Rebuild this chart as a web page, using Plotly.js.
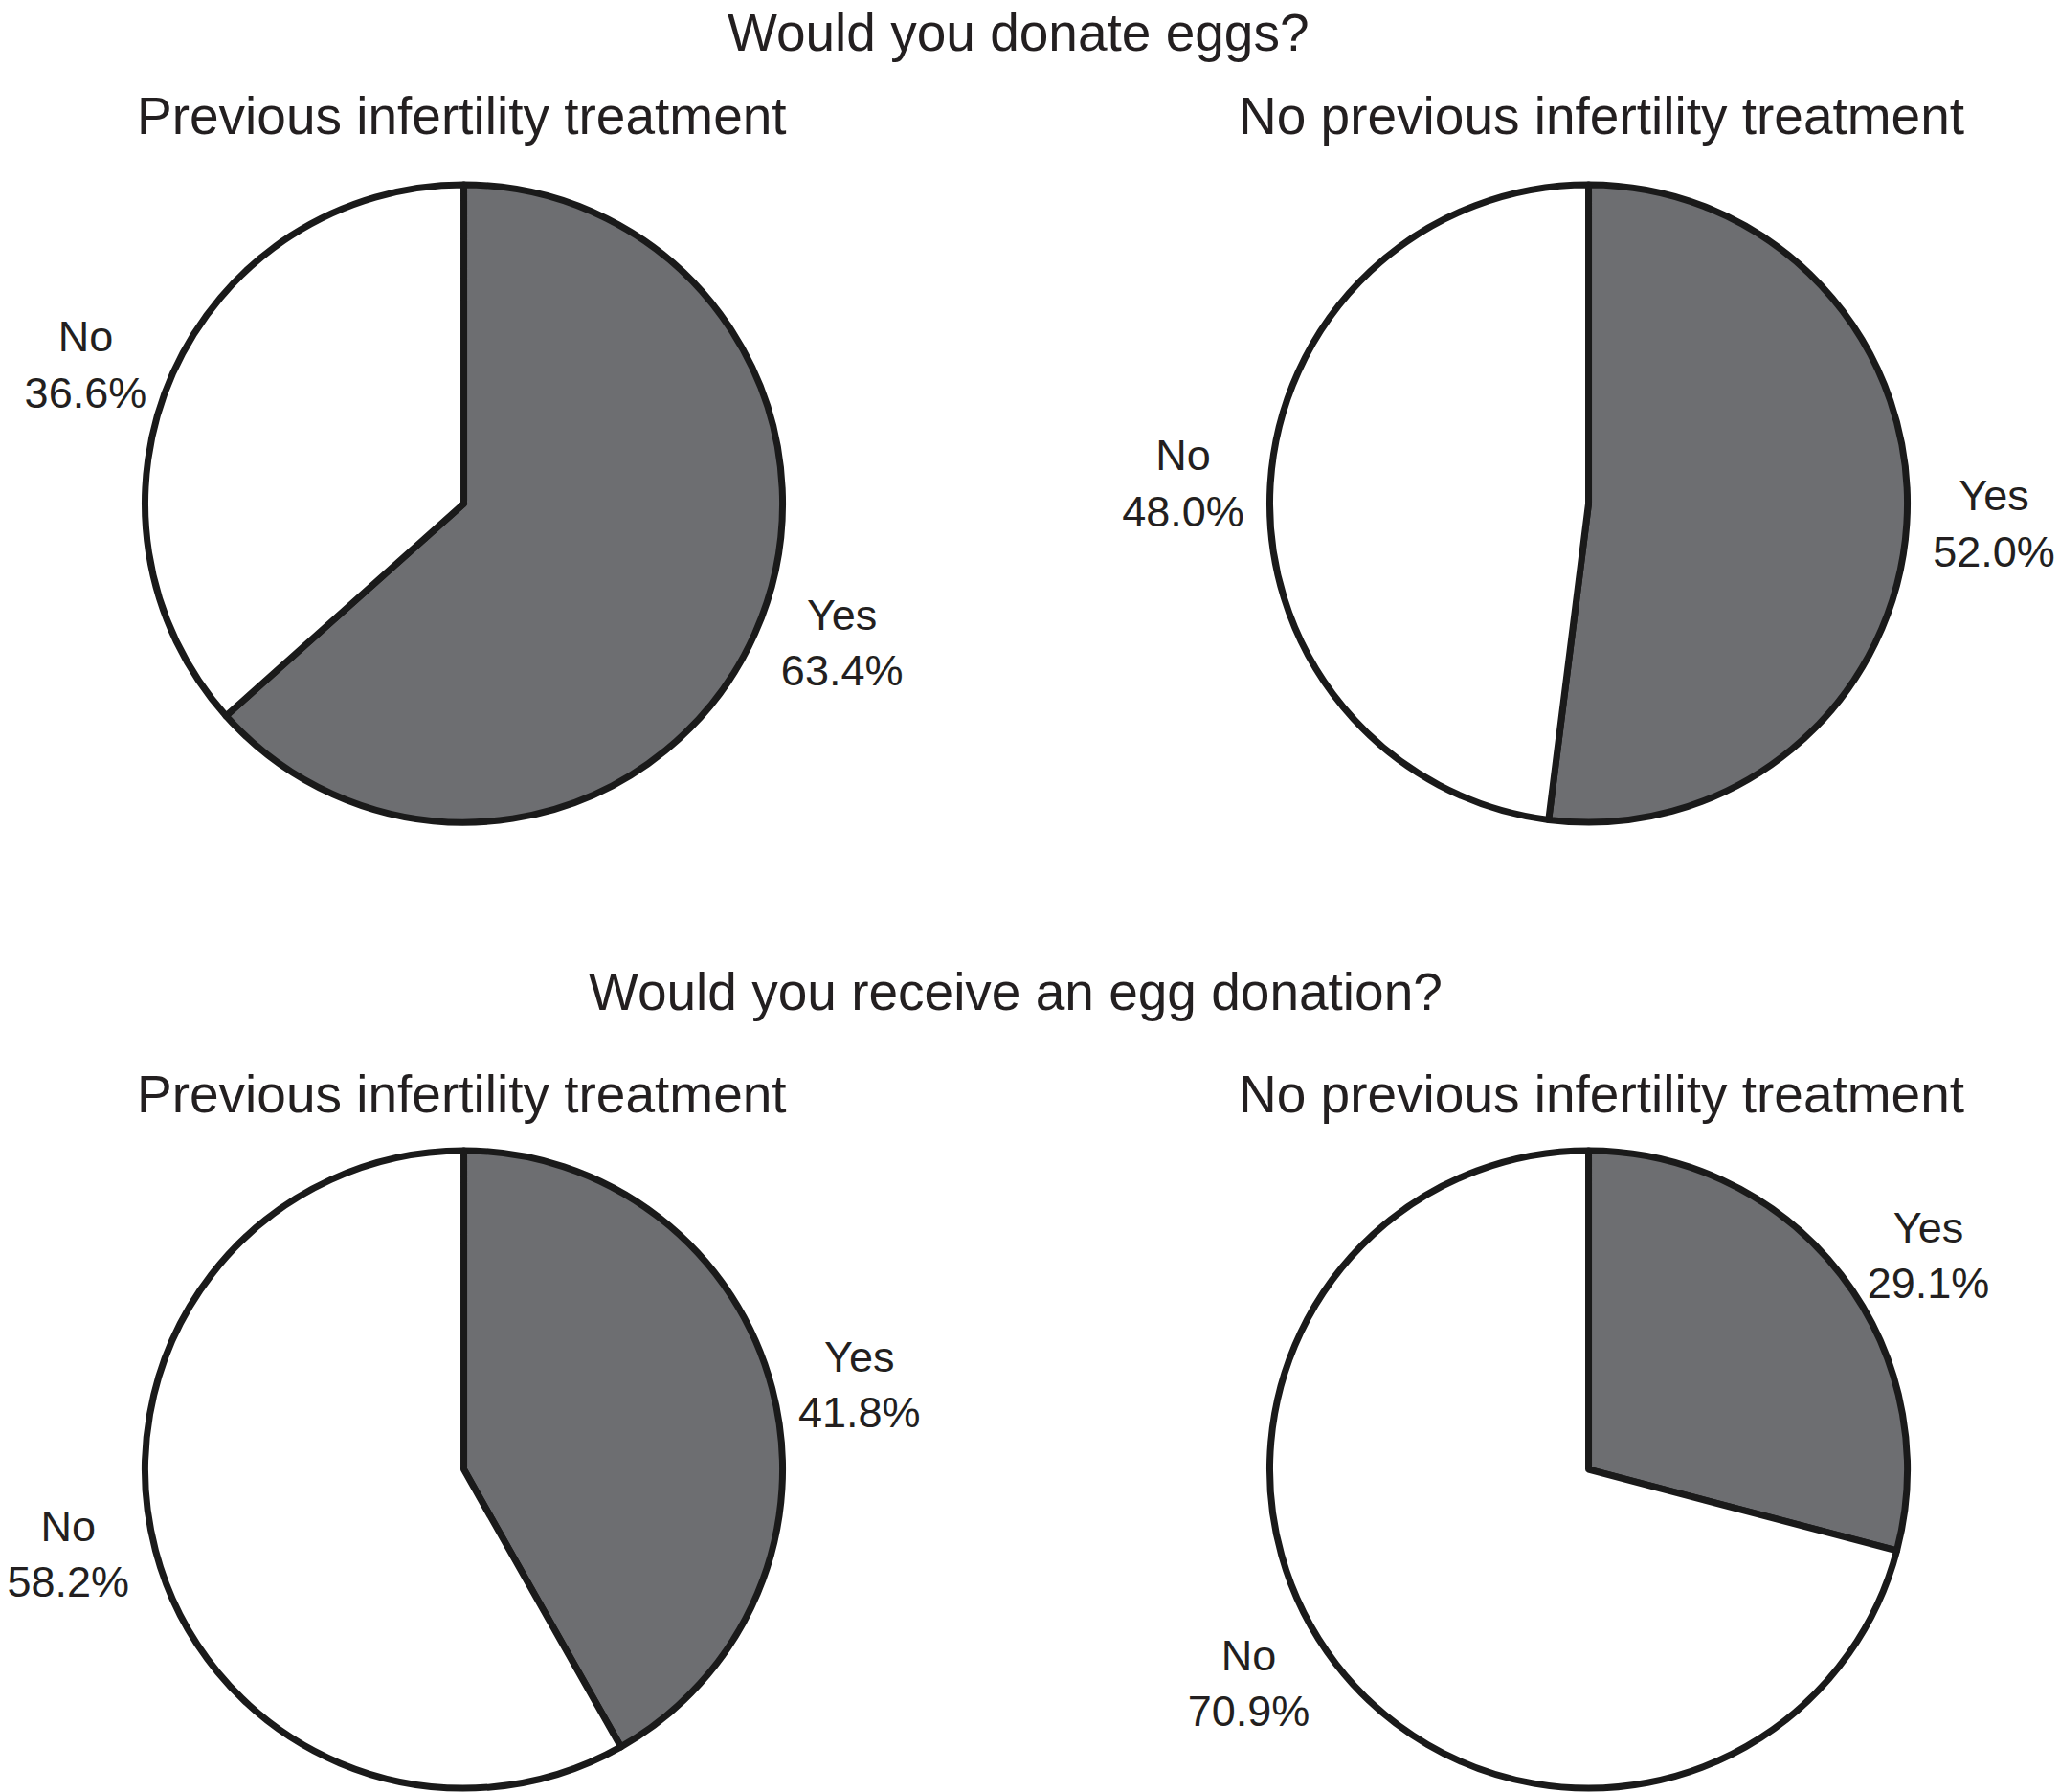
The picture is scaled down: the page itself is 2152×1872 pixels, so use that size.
<!DOCTYPE html>
<html>
<head>
<meta charset="utf-8">
<script src="https://cdn.plot.ly/plotly-3.0.1.min.js"></script>
<style>
  html, body { margin: 0; padding: 0; background: #ffffff; }
  #chart { width: 2152px; height: 1872px; }
</style>
</head>
<body>
<div id="chart"></div>
<script>
// ---- data ----
const sliceLabels = ["Yes", "No"];
const donatePrev = [63.4, 36.6];
const donateNoPrev = [52.0, 48.0];
const receivePrev = [41.8, 58.2];
const receiveNoPrev = [29.1, 70.9];
const questionTitles = ["Would you donate eggs?", "Would you receive an egg donation?"];
const groupTitles = ["Previous infertility treatment", "No previous infertility treatment"];

// ---- style ----
const FONT = "Liberation Sans, Arial, Helvetica, sans-serif";
const TXT = "#231f20";
const sliceColors = ["#6d6e71", "#ffffff"];

const xDomains = [[0.0704, 0.3799], [0.6164, 0.9259]];
const yDomains = [[0.5411, 0.8969], [0.0021, 0.3579]];

function pie(values, xd, yd) {
  return {
    type: "pie",
    labels: sliceLabels,
    values: values,
    sort: false,
    direction: "clockwise",
    rotation: 0,
    hole: 0,
    domain: { x: xd, y: yd },
    marker: { colors: sliceColors, line: { color: "#1a1a1a", width: 7 } },
    texttemplate: "%{label}<br>%{value:.1f}%",
    textposition: "outside",
    textfont: { family: FONT, size: 45, color: TXT },
    showlegend: false,
    hoverinfo: "label+value"
  };
}

const data = [
  pie(donatePrev, xDomains[0], yDomains[0]),
  pie(donateNoPrev, xDomains[1], yDomains[0]),
  pie(receivePrev, xDomains[0], yDomains[1]),
  pie(receiveNoPrev, xDomains[1], yDomains[1])
];

function ann(text, x, y) {
  return {
    text: text, x: x, y: y, xref: "paper", yref: "paper",
    xanchor: "center", yanchor: "middle", showarrow: false,
    font: { family: FONT, size: 55, color: TXT }
  };
}

const layout = {
  width: 2152,
  height: 1872,
  margin: { l: 0, r: 0, t: 0, b: 0 },
  paper_bgcolor: "#ffffff",
  plot_bgcolor: "#ffffff",
  showlegend: false,
  annotations: [
    ann(questionTitles[0], 1064 / 2152, 1 - 34 / 1872),
    ann(groupTitles[0], 482 / 2152, 1 - 121 / 1872),
    ann(groupTitles[1], 1673 / 2152, 1 - 121 / 1872),
    ann(questionTitles[1], 1061 / 2152, 1 - 1036 / 1872),
    ann(groupTitles[0], 482 / 2152, 1 - 1143 / 1872),
    ann(groupTitles[1], 1673 / 2152, 1 - 1143 / 1872)
  ]
};

Plotly.newPlot("chart", data, layout, { displayModeBar: false, staticPlot: true });
</script>
</body>
</html>
